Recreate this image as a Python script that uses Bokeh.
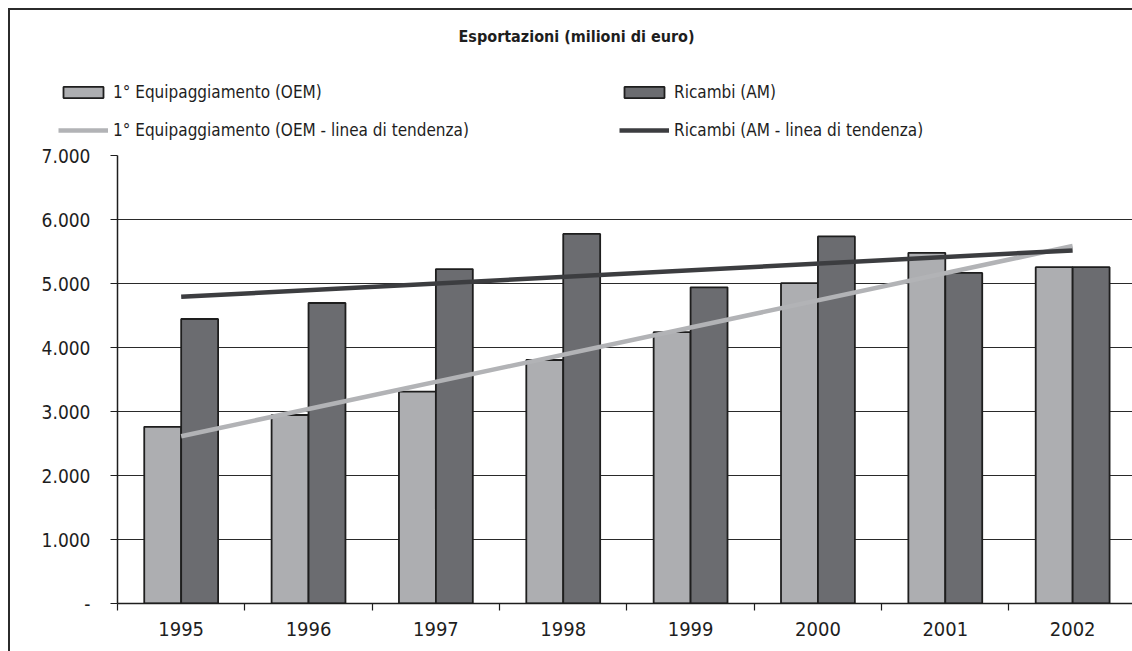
import numpy as np
from bokeh.plotting import figure
from bokeh.layouts import column
from bokeh.models import Range1d, FixedTicker, Legend, LegendItem, Label
from bokeh.embed import file_html
from bokeh.resources import INLINE

# ---------------- data ----------------
years = ["1995", "1996", "1997", "1998", "1999", "2000", "2001", "2002"]
oem = [2760, 2945, 3310, 3805, 4240, 5005, 5480, 5255]   # 1° Equipaggiamento (OEM)
am = [4445, 4695, 5225, 5775, 4940, 5735, 5165, 5255]    # Ricambi (AM)
y_ticks = [0, 1000, 2000, 3000, 4000, 5000, 6000, 7000]
y_tick_labels = ["-", "1.000", "2.000", "3.000", "4.000", "5.000", "6.000", "7.000"]
title_text = "Esportazioni (milioni di euro)"
series_names = [
    "1° Equipaggiamento (OEM)",
    "1° Equipaggiamento (OEM - linea di tendenza)",
    "Ricambi (AM)",
    "Ricambi (AM - linea di tendenza)",
]

# ---------------- style ----------------
FONT = "DejaVu Sans Condensed, Roboto"
FS_YTICK = "19px"
FS_XTICK = "20px"
FS_LEG = "17px"
FS_TITLE = "16px"
INK = "#1e1e1e"
LIGHT = "#adaeb1"
DARK = "#6b6c70"
LIGHT_TREND = "#b2b3b6"
DARK_TREND = "#3c3d40"
W = 1122
TOP_H = 130
MAIN_H = 511

idx = np.arange(len(years))
centers = idx + 0.5
bw = 0.29
c_oem = np.polyfit(idx, oem, 1)   # least-squares trend of each series
c_am = np.polyfit(idx, am, 1)
ends = np.array([idx[0], idx[-1]])

bar_oem_style = dict(fill_color=LIGHT, line_color=INK, line_width=1.8)
bar_am_style = dict(fill_color=DARK, line_color=INK, line_width=1.8)
trend_oem_style = dict(line_color=LIGHT_TREND, line_width=4.5)
trend_am_style = dict(line_color=DARK_TREND, line_width=4.5)

# ---------------- header: title + legend ----------------
head = figure(
    width=W, height=TOP_H, title=None,
    output_backend="svg", toolbar_location=None,
    x_range=Range1d(0, W), y_range=Range1d(0, TOP_H),
    x_axis_type=None, y_axis_type=None,
    min_border=0,
)
head.frame_align = False
head.grid.visible = False
head.outline_line_color = None
head.background_fill_color = "white"
head.border_fill_color = "white"

head.add_layout(Label(
    x=566, y=TOP_H - 26, text=title_text,
    text_align="center", text_baseline="middle",
    text_font=FONT, text_font_size=FS_TITLE, text_font_style="bold",
    text_color=INK,
))

# hidden copies of the series, used only to draw the legend swatches
l_oem = head.vbar(x=centers - bw / 2, top=oem, width=bw, visible=False, **bar_oem_style)
l_toem = head.line(x=ends + 0.5, y=np.polyval(c_oem, ends), visible=False, **trend_oem_style)
l_am = head.vbar(x=centers + bw / 2, top=am, width=bw, visible=False, **bar_am_style)
l_tam = head.line(x=ends + 0.5, y=np.polyval(c_am, ends), visible=False, **trend_am_style)

legend = Legend(
    items=[
        LegendItem(label=series_names[0], renderers=[l_oem]),
        LegendItem(label=series_names[1], renderers=[l_toem]),
        LegendItem(label=series_names[2], renderers=[l_am]),
        LegendItem(label=series_names[3], renderers=[l_tam]),
    ],
    orientation="vertical", ncols=2,
    location=(48, 0),
    padding=0, margin=0, spacing=18,
    glyph_width=50, glyph_height=14, label_height=20,
    label_standoff=5, label_width=488,
    border_line_color=None, background_fill_alpha=0,
    inactive_fill_alpha=0,
    label_text_font=FONT, label_text_font_size=FS_LEG, label_text_color=INK,
)
head.add_layout(legend, "center")

# ---------------- main chart ----------------
p = figure(
    width=W, height=MAIN_H, title=None,
    output_backend="svg", toolbar_location=None,
    x_range=Range1d(0, 7.97), y_range=Range1d(0, 7000),
    min_border_left=107, min_border_right=0,
    min_border_top=15, min_border_bottom=48,
)
p.frame_align = False
p.outline_line_color = None
p.background_fill_color = "white"
p.border_fill_color = "white"

p.vbar(x=centers - bw / 2, top=oem, width=bw, **bar_oem_style)
p.vbar(x=centers + bw / 2, top=am, width=bw, **bar_am_style)
p.line(x=ends + 0.5, y=np.polyval(c_oem, ends), **trend_oem_style)
p.line(x=ends + 0.5, y=np.polyval(c_am, ends), **trend_am_style)

p.xgrid.visible = False
p.ygrid.grid_line_color = "#2a2a2a"
p.ygrid.grid_line_width = 1.2

yax = p.yaxis[0]
yax.ticker = FixedTicker(ticks=y_ticks)
yax.major_label_overrides = {t: l for t, l in zip(y_ticks, y_tick_labels)}
yax.major_tick_out = 7
yax.major_tick_in = 0
yax.minor_tick_out = 0
yax.minor_tick_in = 0
yax.major_label_standoff = 20
yax.axis_line_color = INK
yax.axis_line_width = 1.5
yax.major_tick_line_color = INK
yax.major_tick_line_width = 1.2
yax.major_label_text_font = FONT
yax.major_label_text_font_size = FS_YTICK
yax.major_label_text_color = INK

xax = p.xaxis[0]
xax.ticker = FixedTicker(ticks=list(centers), minor_ticks=list(range(len(years) + 1)))
xax.major_label_overrides = {float(c): y for c, y in zip(centers, years)}
xax.major_tick_out = 0
xax.major_tick_in = 0
xax.minor_tick_out = 7
xax.minor_tick_in = 0
xax.minor_tick_line_color = INK
xax.minor_tick_line_width = 1.2
xax.major_label_standoff = 11
xax.axis_line_color = INK
xax.axis_line_width = 1.5
xax.major_label_text_font = FONT
xax.major_label_text_font_size = FS_XTICK
xax.major_label_text_color = INK

layout = column(
    head, p, spacing=0,
    styles={
        "margin-left": "8px", "margin-top": "8px",
        "border-left": "2px solid #2b2b2b", "border-top": "2px solid #2b2b2b",
    },
)

open("out.html", "w").write(file_html(layout, INLINE))
